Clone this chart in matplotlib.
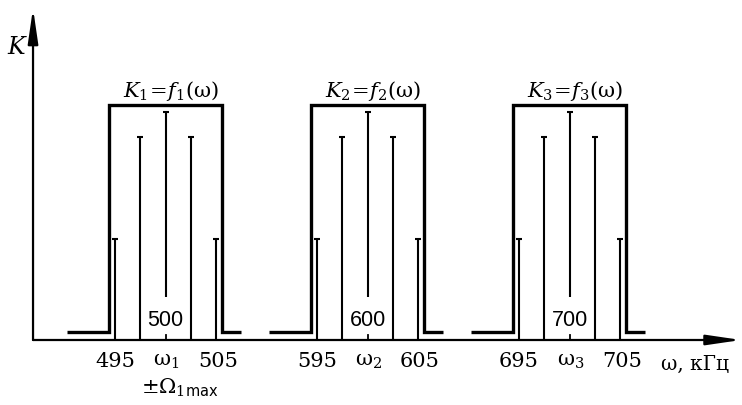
import matplotlib
matplotlib.use("Agg")
from matplotlib import pyplot as plt

# filter centres, kHz
centers = [500, 600, 700]
center_labels = [r"$\mathrm{\omega}_1$", r"$\mathrm{\omega}_2$", r"$\mathrm{\omega}_3$"]
filter_labels = [r"$K_1\!=\!f_1(\mathrm{\omega})$",
                 r"$K_2\!=\!f_2(\mathrm{\omega})$",
                 r"$K_3\!=\!f_3(\mathrm{\omega})$"]

# spectral lines inside each band: offset from centre (kHz) and relative K
line_offsets = [-5, -2.5, 0, 2.5, 5]
line_heights = [0.43, 0.864, 0.97, 0.864, 0.43]
carrier_gap = 0.183          # the carrier line stops above the centre label

# filter response: flat top 1.0, half width in kHz, stop-band level
band_half = 5.6
band_top = 1.0
stop_level = 0.034
stop_from = -9.8
stop_to = 7.5

# the axis is drawn broken: each band gets 20 units of width
spacing = 20

plt.rcParams["font.family"] = ["DejaVu Serif"]
plt.rcParams["mathtext.fontset"] = "dejavuserif"

fig = plt.figure(figsize=(7.42, 4.06), dpi=100)
ax = fig.add_axes([0, 0, 1, 1])
ax.set_xlim(-16.39, 57.08)
ax.set_ylim(-0.2766, 1.451)
ax.axis("off")

x_axis = -13.12
arrow = dict(arrowstyle="-|>,head_length=1.5,head_width=0.22",
             lw=1.6, color="black", mutation_scale=14,
             shrinkA=0, shrinkB=0)

# axes with arrows
ax.annotate("", xy=(57.0, 0), xytext=(x_axis, 0), arrowprops=arrow)
ax.annotate("", xy=(x_axis, 1.411), xytext=(x_axis, 0), arrowprops=arrow)

for i, c in enumerate(centers):
    u0 = i * spacing

    # filter frequency response
    xs = [u0 + stop_from, u0 - band_half, u0 - band_half,
          u0 + band_half, u0 + band_half, u0 + stop_to]
    ys = [stop_level, stop_level, band_top, band_top, stop_level, stop_level]
    ax.plot(xs, ys, color="black", lw=2.4, solid_joinstyle="miter",
            solid_capstyle="butt")

    # spectrum lines
    for off, h in zip(line_offsets, line_heights):
        bottom = carrier_gap if off == 0 else 0
        ax.plot([u0 + off, u0 + off], [bottom, h], color="black", lw=1.5,
                solid_capstyle="butt")
        ax.plot(u0 + off, h, marker="_", ms=4.5, mew=1.5, color="black")

    # small tick for the carrier
    ax.plot([u0, u0], [0, 0.02], color="black", lw=1.3)

    ax.text(u0, 0.089, str(c), ha="center", va="center", fontsize=15.5,
            family="Liberation Sans")
    ax.text(u0 + 0.5, 1.064, filter_labels[i], ha="center", va="center",
            fontsize=15)

    ax.text(u0 - 5, -0.089, str(c - 5), ha="center", va="center", fontsize=15)
    ax.text(u0 + 0.1, -0.089, center_labels[i], ha="center", va="center",
            fontsize=15)
    ax.text(u0 + 5.2, -0.089, str(c + 5), ha="center", va="center", fontsize=15)

ax.text(1.44, -0.2, r"$\pm\Omega_{1\mathsf{max}}$", ha="center", va="center",
        fontsize=15)
ax.text(52.4, -0.098, "ω, кГц", ha="center", va="center", fontsize=14.5)
ax.text(-14.8, 1.251, "K", ha="center", va="center", fontsize=17,
        style="italic")

fig.savefig("out.png", dpi=100)
